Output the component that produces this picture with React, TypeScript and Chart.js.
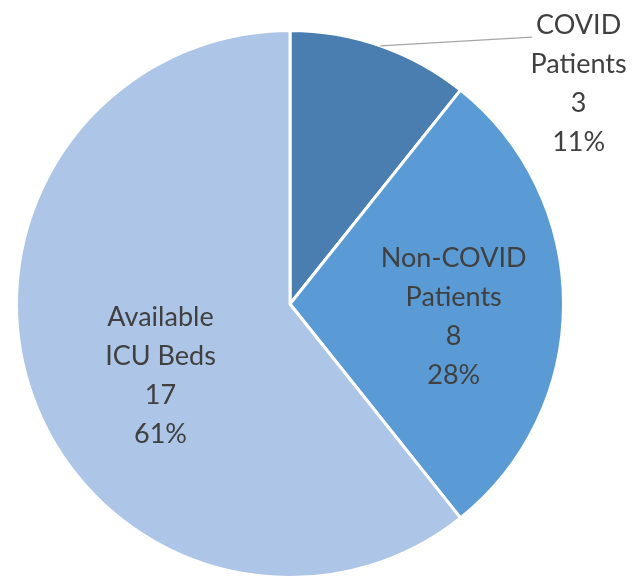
import React, { useEffect, useRef } from "react";
import { Chart, registerables } from "chart.js";

Chart.register(...registerables);

const categories = ["COVID Patients", "Non-COVID Patients", "Available ICU Beds"];
const labelLines = [["COVID", "Patients"], ["Non-COVID", "Patients"], ["Available", "ICU Beds"]];
const values = [3, 8, 17];
const percentLabels = ["11%", "28%", "61%"];
const colors = ["#4a7eb0", "#5b9bd5", "#adc5e6"];

// label placement: [radius ratio, angle offset (rad), outside?]
const placement = [
  { ratio: 1.33, dAngle: 0.58, outside: true },
  { ratio: 0.6, dAngle: 0.07, outside: false },
  { ratio: 0.54, dAngle: -0.165, outside: false },
];

const FONT = "27px Lato, 'Open Sans', sans-serif";
const LINE_H = 39;

const labelPlugin = {
  id: "sliceLabels",
  afterDatasetsDraw(chart: any) {
    const ctx = chart.ctx;
    const meta = chart.getDatasetMeta(0);
    ctx.save();
    ctx.font = FONT;
    ctx.fillStyle = "#404040";
    ctx.textAlign = "center";
    ctx.textBaseline = "middle";
    meta.data.forEach((arc: any, i: number) => {
      const { x, y, startAngle, endAngle, outerRadius } = arc.getProps(
        ["x", "y", "startAngle", "endAngle", "outerRadius"],
        true
      );
      const mid = (startAngle + endAngle) / 2;
      const p = placement[i];
      const a = mid + p.dAngle;
      const lx = x + Math.cos(a) * outerRadius * p.ratio;
      const ly = y + Math.sin(a) * outerRadius * p.ratio;
      const lines = [...labelLines[i], String(values[i]), percentLabels[i]];
      const top = ly - ((lines.length - 1) * LINE_H) / 2;
      lines.forEach((t, k) => ctx.fillText(t, lx, top + k * LINE_H + 1));
      if (p.outside) {
        const sx = x + Math.cos(mid) * outerRadius;
        const sy = y + Math.sin(mid) * outerRadius;
        const w = ctx.measureText(lines[0]).width;
        ctx.beginPath();
        ctx.strokeStyle = "#a6a6a6";
        ctx.lineWidth = 1.3;
        ctx.moveTo(sx, sy);
        ctx.lineTo(lx - w / 2 - 4, top + 13);
        ctx.stroke();
      }
    });
    ctx.restore();
  },
};

export default function App() {
  const ref = useRef<HTMLCanvasElement>(null);
  useEffect(() => {
    const chart = new Chart(ref.current!, {
      type: "pie",
      data: {
        labels: categories,
        datasets: [
          {
            data: values,
            backgroundColor: colors,
            borderColor: "#ffffff",
            borderWidth: 3,
          },
        ],
      },
      options: {
        animation: false,
        responsive: true,
        maintainAspectRatio: false,
        layout: { padding: { left: 14, right: 68, top: 29, bottom: 0 } },
        plugins: {
          legend: { display: false },
          tooltip: { enabled: false },
        },
      },
      plugins: [labelPlugin],
    });
    return () => chart.destroy();
  }, []);
  return (
    <div style={{ position: "fixed", left: 0, top: 0, width: 634, height: 579, background: "#fff" }}>
      <canvas ref={ref} />
    </div>
  );
}
